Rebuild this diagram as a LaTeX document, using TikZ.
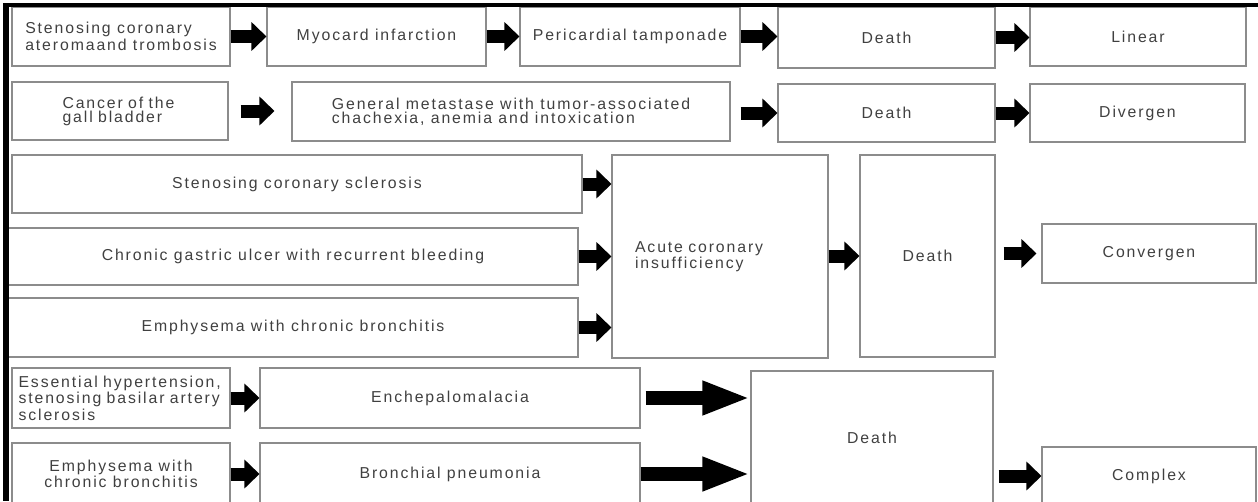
\documentclass[tikz,border=0pt]{standalone}
\usepackage{fontspec}
\setmainfont{Liberation Sans}[LetterSpace=12]
\usetikzlibrary{arrows.meta}
\tikzset{
  box/.style={draw=black!45, line width=0.6pt, inner sep=2pt, text=black!75, font=\fontsize{9}{8}\selectfont},
  sz/.style 2 args={minimum width=#1*0.02cm, minimum height=#2*0.02cm},
  blk/.style={line width=0.26cm, -{Triangle[length=0.3cm,width=0.56cm]}},
  lng/.style={line width=0.28cm, -{Triangle[length=0.96cm,width=0.62cm]}}
}
\begin{document}
\begin{tikzpicture}[x=0.02cm, y=-0.02cm]
\useasboundingbox (0,0) rectangle (1258,501);

% linear
\node[box, sz={218}{59}, align=left] (a1) at (121,36.5) {Stenosing coronary\\ateromaand trombosis};
\node[box, sz={219}{59}] (a2) at (376.5,36.5) {Myocard infarction};
\node[box, sz={220}{59}] (a3) at (630,36.5) {Pericardial tamponade};
\node[box, sz={217}{61}] (a4) at (886.5,37.5) {Death};
\node[box, sz={216}{59}] (a5) at (1138,36.5) {Linear};

% divergen
\node[box, sz={216}{58}, text width=2.3cm, align=left] (b1) at (120,111) {Cancer of the\\gall bladder};
\node[box, sz={438}{59}, align=left] (b2) at (511,111.5) {General metastase with tumor-associated\\chachexia, anemia and intoxication};
\node[box, sz={217}{58}] (b3) at (886.5,113) {Death};
\node[box, sz={215}{58}] (b4) at (1137.5,113) {Divergen};

% convergen
\node[box, sz={570}{58}] (c1) at (297,184) {Stenosing coronary sclerosis};
\node[box, sz={570}{57}] (c2) at (293,256.5) {Chronic gastric ulcer with recurrent bleeding};
\node[box, sz={570}{59}] (c3) at (293,327.5) {Emphysema with chronic bronchitis};
\node[box, sz={216}{203}, text width=3.4cm, align=left] (c4) at (720,256.5) {Acute coronary\\insufficiency};
\node[box, sz={135}{202}] (c5) at (927.5,256) {Death};
\node[box, sz={214}{59}] (c6) at (1149,253.5) {Convergen};

% complex
\node[box, sz={218}{60}, text width=4.1cm, align=left] (d1) at (121,398) {Essential hypertension,\\stenosing basilar artery\\sclerosis};
\node[box, sz={380}{60}] (d2) at (450,398) {Enchepalomalacia};
\node[box, sz={242}{134}] (d3) at (872,438) {Death};
\node[box, sz={218}{62}, align=center] (d4) at (121,474) {Emphysema with\\chronic bronchitis};
\node[box, sz={380}{62}] (d5) at (450,474) {Bronchial pneumonia};
\node[box, sz={214}{58}] (d6) at (1149,476) {Complex};

\foreach \a/\b in {a1/a2, a2/a3, a3/a4, a4/a5}
  \draw[blk] (\a.east) -- (\a.east -| \b.west);
\draw[blk, shorten <=0.24cm, shorten >=0.34cm] (b1.east) -- (b1.east -| b2.west);
\draw[blk, shorten <=0.2cm] (b2.east |- b3) -- (b3.west);
\draw[blk] (b3) -- (b4);
\foreach \a in {c1, c2, c3}
  \draw[blk] (\a.east) -- (\a.east -| c4.west);
\draw[blk] (c4.east |- c5) -- (c5.west);
\draw[blk, shorten <=0.16cm, shorten >=0.1cm] (c5.east |- c6) -- (c6.west);
\draw[blk] (d1) -- (d2);
\draw[blk] (d4) -- (d5);
\draw[lng, shorten <=0.1cm] (d2.east) -- (d2.east -| d3.west);
\draw[lng] (d5.east) -- (d5.east -| d3.west);
\draw[blk, shorten <=0.1cm] (d3.east |- d6) -- (d6.west);

% frame
\fill (3,3) rectangle (1258,7);
\fill (3,3) rectangle (9,501);
\end{tikzpicture}
\end{document}
